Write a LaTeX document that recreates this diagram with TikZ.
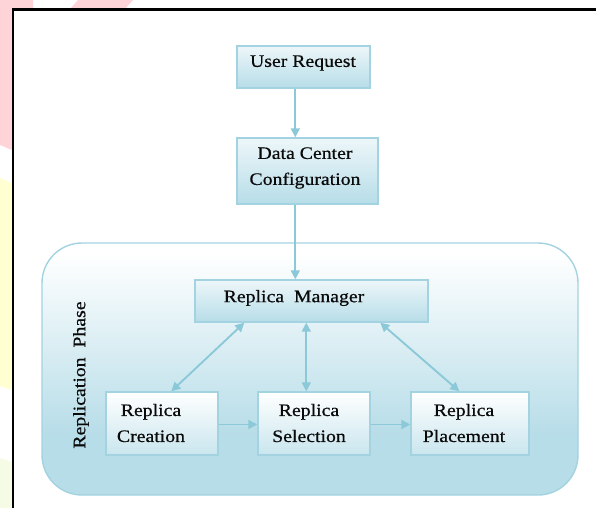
\documentclass[tikz,border=0pt]{standalone}
\usepackage{fontspec}
\setmainfont{Liberation Serif}[FakeStretch=1.13,FakeBold=0.6]
\usetikzlibrary{arrows.meta}
\definecolor{cb}{HTML}{B7DDE8}
\definecolor{boxedge}{HTML}{A3D3E0}
\definecolor{arr}{HTML}{8CC9D8}
\definecolor{pinkw}{HTML}{FFD4D9}
\definecolor{yelw}{HTML}{FFFFD2}
\definecolor{grnw}{HTML}{F5FBE4}
\definecolor{txtc}{HTML}{0A0A0A}
\pgfdeclareverticalshading{contsh}{100bp}{color(0bp)=(cb); color(25bp)=(cb); color(37bp)=(cb); color(73bp)=(white); color(100bp)=(white)}
\tikzset{
  blk/.style={draw=boxedge, line width=1.4pt, rectangle, inner sep=0pt},
  upbox/.style={blk, top color=cb!25, bottom color=cb},
  lowbox/.style={blk, top color=white, bottom color=cb!75},
  txt/.style={font=\fontsize{17.5}{26}\selectfont, text=txtc, align=center, inner sep=0pt},
  con/.style={draw=arr, line width=1.9pt, -{Triangle[length=9pt,width=9pt]}},
  bcon/.style={draw=arr, line width=1.9pt, {Triangle[length=9pt,width=9pt]}-{Triangle[length=9pt,width=9pt]}}
}
\begin{document}
\begin{tikzpicture}[x=1pt,y=-1pt]
\useasboundingbox (0,0) rectangle (596,508);
% background watermark fragments
\fill[pinkw] (0,0) -- (33,0) -- (33,9) -- (12,9) -- (12,150) -- (0,145) -- cycle;
\fill[pinkw] (78,0) -- (133,0) -- (125,9) -- (70,9) -- cycle;
\fill[yelw] (0,178) -- (12,183) -- (12,390) -- (0,386) -- cycle;
\fill[grnw] (0,458) -- (12,462) -- (12,508) -- (0,508) -- cycle;
% frame
\draw[line width=2.2pt, black] (13,508) -- (13,9.5) -- (596,9.5);
% container
\path[draw=boxedge, line width=1.4pt, shading=contsh, rounded corners=40pt] (42,243) rectangle (578,495);
\node[txt, rotate=90] (phase) at (81,375) {Replication\ \ Phase};
% boxes
\node[upbox, minimum width=133pt, minimum height=42pt] (ur) at (303.5,67) {};
\node[txt] (urt) at (303,63) {User Request};
\node[upbox, minimum width=141pt, minimum height=66pt] (dc) at (307.5,171) {};
\node[txt] (dct) at (305,168) {Data Center\\Configuration};
\node[upbox, minimum width=233pt, minimum height=42pt] (mg) at (311.5,301) {};
\node[txt] (mgt) at (294,298) {Replica\ \ Manager};
\node[lowbox, minimum width=112pt, minimum height=63pt] (cr) at (162,423.5) {};
\node[txt] (crt) at (151,423) {Replica\\Creation};
\node[lowbox, minimum width=112pt, minimum height=63pt] (sl) at (314,423.5) {};
\node[txt] (slt) at (309,423) {Replica\\Selection};
\node[lowbox, minimum width=118pt, minimum height=63pt] (pl) at (470,423.5) {};
\node[txt] (plt) at (464,423) {Replica\\Placement};
% connectors
\draw[con] ([xshift=59pt]ur.south west) -- ([xshift=59pt]dc.north west);
\draw[con] ([xshift=59pt]dc.south west) -- ([xshift=101pt]mg.north west);
\draw[bcon] ([xshift=50pt]mg.south west) -- ([xshift=66pt]cr.north west);
\draw[bcon] ([xshift=112pt]mg.south west) -- ([xshift=49pt]sl.north west);
\draw[bcon] ([xshift=186pt]mg.south west) -- ([xshift=49pt]pl.north west);
\draw[con] ([yshift=-1pt]cr.east) -- ([yshift=-1pt]sl.west);
\draw[con] ([yshift=-1pt]sl.east) -- ([yshift=-1pt]pl.west);
\end{tikzpicture}
\end{document}
